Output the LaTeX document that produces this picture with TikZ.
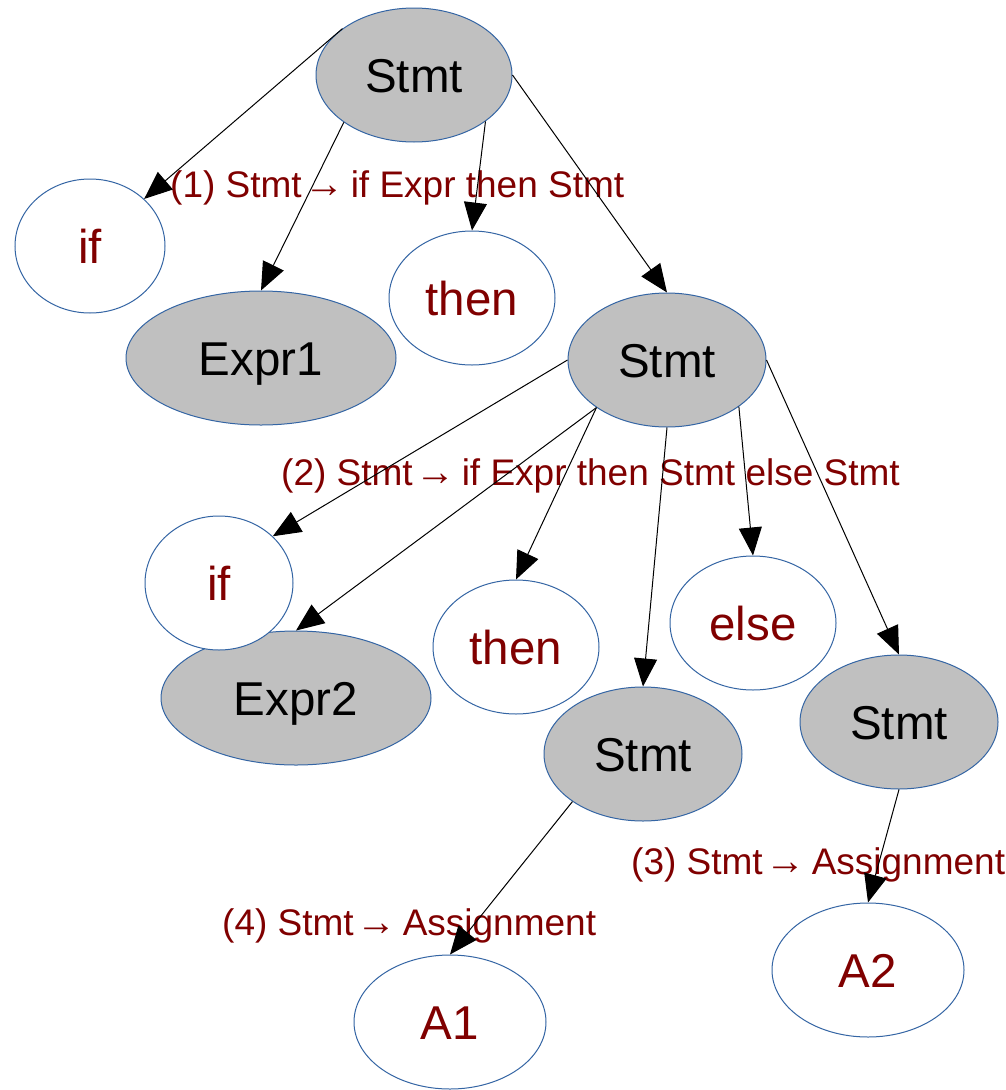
\documentclass[tikz,border=0pt]{standalone}
\usepackage{fontspec}
\setmainfont{Liberation Sans}
\usetikzlibrary{shapes.geometric,arrows.meta}
\definecolor{nodeblue}{HTML}{3465A4}
\definecolor{nodegray}{HTML}{C0C0C0}
\definecolor{darkred}{HTML}{800000}
\newcommand{\ruarrow}{\hspace{3pt}{\fontsize{40}{40}\selectfont →}\hspace{6pt}}
\begin{document}
\begin{tikzpicture}[x=1pt,y=-1pt]
\tikzset{
 tn/.style={ellipse, draw=nodeblue, line width=1pt, inner sep=0pt, minimum height=134pt,
   font=\fontsize{47.5}{47.5}\selectfont, text height=34pt, text depth=0pt},
 nt/.style={tn, fill=nodegray, text=black},
 tt/.style={tn, fill=white, text=darkred},
 rulelabel/.style={font=\fontsize{37}{37}\selectfont, text=darkred, inner sep=0pt, anchor=base west},
 conn/.style={draw=black, line width=1pt, -{Triangle[length=28pt,width=23pt]}}
}
\useasboundingbox[fill=white] (0,0) rectangle (1006,1090);
\node[nt, minimum width=196pt] (s0) at (414,75) {Stmt};
\node[tt, minimum width=150pt] (if1) at (90,246) {if};
\node[nt, minimum width=270pt] (e1) at (261,358) {Expr1};
\node[tt, minimum width=166pt] (th1) at (472,298) {then};
\node[nt, minimum width=198pt] (s1) at (667,360) {Stmt};
\node[nt, minimum width=270pt] (e2) at (296,698) {Expr2};
\node[tt, minimum width=148pt] (if2) at (219,583) {if};
\node[tt, minimum width=166pt] (th2) at (516,647) {then};
\node[tt, minimum width=166pt] (el) at (753,623) {else};
\node[nt, minimum width=198pt] (s2) at (643,754) {Stmt};
\node[nt, minimum width=198pt] (s3) at (899,722) {Stmt};
\node[tt, minimum width=192pt] (a1) at (450,1022) {A1};
\node[tt, minimum width=192pt] (a2) at (868,970) {A2};

\node[rulelabel] (r1) at (170,197) {(1) Stmt\ruarrow if Expr then Stmt};
\node[rulelabel] (r2) at (281,485) {(2) Stmt\ruarrow if Expr then Stmt else Stmt};
\node[rulelabel] (r3) at (631,874) {(3) Stmt\ruarrow Assignment};
\node[rulelabel] (r4) at (222,935) {(4) Stmt\ruarrow Assignment};

\draw[conn] (s0.147) -- (if1.41);
\draw[conn] (s0.214) -- (e1.north);
\draw[conn] (s0.327) -- (th1.north);
\draw[conn] (s0.east) -- (s1.north);
\draw[conn] (s1.west) -- (if2.41);
\draw[conn] (s1.214) -- (e2.north);
\draw[conn] (s1.214) -- (th2.north);
\draw[conn] (s1.south) -- (s2.north);
\draw[conn] (s1.327) -- (el.north);
\draw[conn] (s1.east) -- (s3.north);
\draw[conn] (s2.214) -- (a1.north);
\draw[conn] (s3.south) -- (a2.north);
\end{tikzpicture}
\end{document}
